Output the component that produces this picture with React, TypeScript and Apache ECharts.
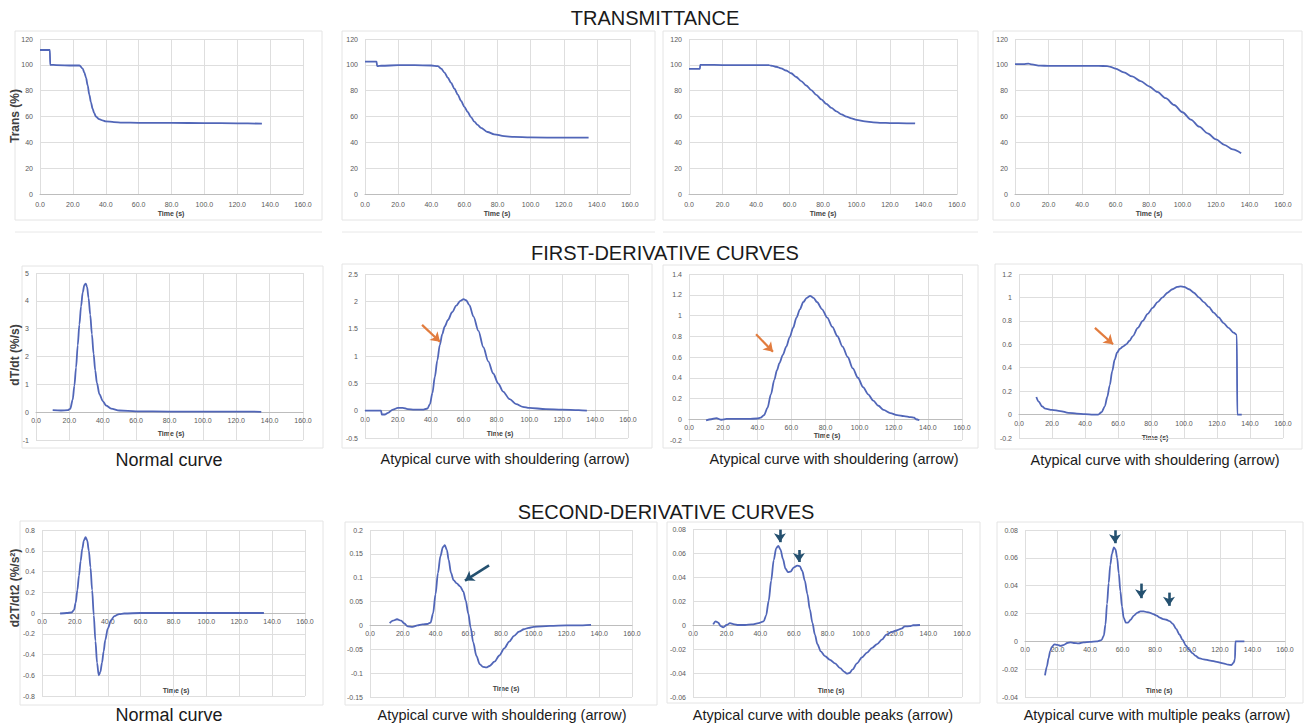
import React, { useEffect, useRef } from 'react';
import * as echarts from 'echarts';

type P = [number, number];

// ---- X axis (time) ----
const TIME_MIN = 0;
const TIME_MAX = 160;
const TIME_STEP = 20;

// ---- Transmittance (%) ----
const T1: P[] = [[0,111.5],[6,111.5],[6.2,100],[10,99.8],[20,99.5],[24,99.5],[26,97],[27,94],[28,90],[29,84],[30,77],[31,71],[32,66],[33,62.5],[34,60],[36,58],[38,57],[40,56.3],[45,55.6],[50,55.3],[60,55.1],[80,55],[100,54.9],[120,54.7],[135,54.5]];
const T2: P[] = [[0,102.5],[7,102.5],[7.3,99],[10,99.3],[20,99.7],[30,99.7],[40,99.5],[44,99],[46,97],[48,94],[50,90],[52,86],[54,81.5],[56,77],[58,72],[60,67.5],[62,63.5],[64,59.5],[66,56],[68,53.5],[70,51.2],[74,48],[78,46.2],[84,44.8],[90,44.2],[100,43.8],[120,43.6],[135,43.6]];
const T3: P[] = [[0,96.8],[6.5,96.8],[6.7,100],[10,100],[20,99.8],[30,99.8],[40,99.8],[48,99.7],[50,99.2],[52,98.5],[55,97.3],[58,95.6],[61,93.5],[64,90.6],[67,87.4],[70,84],[73,80.4],[76,76.8],[79,73.2],[82,69.8],[85,66.7],[88,64],[91,61.7],[94,59.9],[97,58.5],[100,57.4],[105,56.2],[110,55.5],[115,55.1],[120,54.9],[130,54.7],[135,54.6]];
const T4: P[] = [[0,100.5],[5,100.5],[8,101],[10,100.3],[15,99.4],[20,99.2],[30,99.2],[40,99.2],[50,99.2],[55,99],[57,98.4],[60,97],[65,94.2],[70,91],[75,87.4],[80,83.4],[85,79],[90,74.2],[95,68.9],[100,63.3],[105,57.6],[110,52.1],[115,47],[120,42.3],[125,38.1],[130,34.5],[135,31.5]];

// ---- First derivative dT/dt (%/s) ----
const D1: P[] = [[10,0.07],[15,0.06],[19,0.07],[20.5,0.12],[22,0.45],[23,0.95],[24,1.6],[25,2.4],[26,3.15],[27,3.8],[28,4.3],[29,4.57],[29.8,4.62],[30.6,4.5],[31.5,4.1],[32.5,3.5],[33.5,2.8],[34.5,2.1],[35.5,1.5],[36.5,1.05],[38,0.65],[40,0.4],[42,0.24],[45,0.13],[50,0.06],[60,0.03],[80,0.02],[100,0.02],[120,0.02],[130,0.02],[135,0.01]];
const D2: P[] = [[0,0],[5,0],[9.8,0],[10.2,-0.07],[12,-0.07],[14,-0.04],[17,0.02],[20,0.05],[23,0.05],[26,0.03],[30,0.02],[35,0.02],[38,0.04],[39.5,0.12],[41,0.32],[42.5,0.62],[44,0.92],[45.5,1.2],[47,1.4],[48.5,1.54],[50.5,1.66],[53,1.8],[55.5,1.92],[58,2.01],[60,2.04],[61.5,2.02],[63.5,1.93],[66,1.72],[69,1.46],[72,1.16],[75,0.9],[78,0.68],[81,0.5],[84,0.35],[88,0.21],[92,0.12],[96,0.07],[100,0.05],[110,0.03],[120,0.02],[130,0.01],[135,0]];
const D3: P[] = [[10,-0.01],[13,0],[16,0.01],[19,-0.005],[22,0.003],[28,0.003],[35,0.003],[40,0.007],[42,0.015],[44,0.04],[46,0.11],[48,0.24],[50,0.38],[51.5,0.47],[53,0.54],[55,0.62],[57,0.7],[59,0.79],[61,0.88],[63,0.98],[65,1.06],[67,1.13],[69,1.17],[71,1.19],[73,1.17],[75,1.13],[78,1.06],[81,0.98],[84,0.89],[87,0.8],[90,0.7],[93,0.6],[96,0.49],[99,0.4],[102,0.31],[105,0.24],[108,0.18],[111,0.13],[114,0.09],[118,0.06],[122,0.04],[126,0.03],[130,0.02],[132,0.015],[133,0],[135,-0.01]];
const D4: P[] = [[10.5,0.15],[12,0.11],[14,0.07],[16,0.05],[20,0.04],[25,0.03],[30,0.015],[35,0.008],[40,0.004],[45,0],[48,0],[50,0.02],[52,0.07],[53.5,0.15],[55,0.25],[56.5,0.37],[58,0.47],[59.5,0.53],[61,0.56],[63,0.58],[65,0.6],[67,0.63],[69,0.67],[72,0.74],[75,0.8],[78,0.86],[81,0.91],[84,0.96],[87,1.0],[90,1.04],[93,1.07],[96,1.09],[98,1.095],[100,1.09],[103,1.07],[106,1.04],[109,1.0],[112,0.96],[115,0.92],[118,0.87],[121,0.83],[124,0.78],[127,0.74],[130,0.7],[132,0.68],[132.3,0],[135,0]];

// ---- Second derivative d2T/dt2 (%/s²) ----
const S1: P[] = [[11,-0.005],[15,0],[18,0.005],[19.5,0.03],[20.5,0.1],[21.5,0.22],[22.5,0.36],[23.5,0.5],[24.5,0.62],[25.5,0.7],[26.5,0.73],[27.5,0.7],[28.5,0.6],[29.5,0.44],[30.5,0.22],[31.5,-0.02],[32.5,-0.27],[33.5,-0.48],[34.5,-0.6],[35.5,-0.57],[36.5,-0.48],[37.5,-0.37],[38.5,-0.26],[40,-0.15],[42,-0.07],[44,-0.03],[47,-0.01],[50,-0.005],[60,0],[80,0],[100,0],[120,0],[135,0]];
const S2: P[] = [[12,0.005],[14,0.01],[16.5,0.013],[19,0.01],[21,0.004],[23,-0.002],[26,-0.003],[29,0],[32,0.002],[35,0.003],[37,0.006],[38.5,0.025],[40,0.065],[41.5,0.11],[43,0.145],[44.5,0.164],[45.7,0.168],[47,0.158],[48,0.138],[49.5,0.11],[51,0.095],[53,0.088],[55,0.082],[57,0.071],[58.5,0.052],[60,0.025],[61.5,-0.005],[63,-0.035],[65,-0.064],[67,-0.081],[69,-0.087],[71,-0.088],[73,-0.085],[76,-0.076],[79,-0.063],[82,-0.048],[85,-0.034],[88,-0.022],[91,-0.013],[94,-0.008],[97,-0.005],[100,-0.003],[110,-0.001],[120,0],[130,0],[135,0.001]];
const S3: P[] = [[12,0.0005],[13.5,0.003],[15,0.002],[16.5,-0.001],[18,-0.002],[20,0],[22,0.0015],[24,0.0008],[27,0],[31,0],[35,0.0005],[39,0.0015],[42,0.003],[43.5,0.008],[45,0.02],[46.5,0.037],[48,0.054],[49.5,0.064],[50.7,0.066],[52,0.063],[53.5,0.055],[55,0.047],[56.5,0.044],[58,0.0445],[60,0.048],[62,0.0495],[63.5,0.049],[65,0.045],[66.5,0.037],[68,0.026],[69.5,0.013],[71,0.002],[72.5,-0.008],[74,-0.016],[76,-0.022],[78.5,-0.026],[81.5,-0.029],[84.5,-0.032],[87.5,-0.036],[90,-0.039],[91.5,-0.0405],[93,-0.04],[95,-0.037],[97.5,-0.032],[100.5,-0.027],[103.5,-0.023],[106.5,-0.019],[109.5,-0.016],[112.5,-0.012],[115,-0.008],[118,-0.006],[121,-0.0045],[124,-0.003],[126,-0.0012],[129,-0.001],[131,-0.0002],[135,0]];
const S4: P[] = [[12.3,-0.0245],[13.5,-0.018],[14.5,-0.012],[15.5,-0.007],[16.5,-0.004],[18,-0.0022],[20,-0.0025],[22,-0.0032],[24,-0.0025],[26,-0.0012],[28,-0.0008],[30,-0.0012],[33,-0.0015],[36,-0.0008],[40,-0.0004],[44,0],[47,0.0008],[48.5,0.004],[49.5,0.012],[50.5,0.027],[51.5,0.042],[52.5,0.055],[53.5,0.063],[54.7,0.0675],[55.7,0.066],[56.7,0.06],[57.7,0.049],[58.7,0.036],[59.7,0.025],[60.7,0.017],[62,0.0135],[63.5,0.0135],[65,0.0155],[67,0.0185],[69,0.0205],[71,0.0215],[73,0.0215],[75,0.021],[77,0.0205],[79,0.0195],[81,0.0185],[83,0.017],[85,0.016],[87,0.0155],[89,0.0145],[91,0.0125],[93,0.009],[95,0.005],[97,0.001],[99,-0.003],[101,-0.006],[103,-0.0085],[105,-0.0105],[107,-0.012],[110,-0.013],[114,-0.0138],[118,-0.0148],[122,-0.0158],[125,-0.0168],[127,-0.017],[128.3,-0.0155],[129.2,-0.013],[129.5,0],[135,0]];

const SERIES_DATA: P[][] = [T1, T2, T3, T4, D1, D2, D3, D4, S1, S2, S3, S4];

// y scales per panel: [min, max, interval]
const Y_SCALES: [number, number, number][] = [
  [0, 120, 20], [0, 120, 20], [0, 120, 20], [0, 120, 20],
  [-1, 5, 1], [-0.5, 2.5, 0.5], [-0.2, 1.4, 0.2], [-0.2, 1.2, 0.2],
  [-0.8, 0.8, 0.2], [-0.15, 0.2, 0.05], [-0.06, 0.08, 0.02], [-0.04, 0.08, 0.02],
];

// annotation arrows in data units: [panel, x1, y1, x2, y2]
const ORANGE_ARROWS: [number, number, number, number, number][] = [
  [5, 34.7, 1.57, 45.6, 1.26],
  [6, 39.3, 0.82, 49.2, 0.65],
  [7, 46, 0.74, 57, 0.6],
];
const BLUE_ARROWS: [number, number, number, number, number][] = [
  [9, 72.7, 0.126, 58, 0.094],
  [10, 51.7, 0.0795, 51.7, 0.069],
  [10, 63, 0.0625, 63, 0.0525],
  [11, 55.4, 0.0798, 55.4, 0.0705],
  [11, 71.4, 0.0415, 71.4, 0.031],
  [11, 88.6, 0.035, 88.6, 0.0255],
];

const SECTION_TITLES = ['TRANSMITTANCE', 'FIRST-DERIVATIVE CURVES', 'SECOND-DERIVATIVE CURVES'];
const Y_NAMES = ['Trans (%)', 'dT/dt (%/s)', 'd2T/dt2 (%/s²)'];
const X_NAME = 'Time (s)';
const ROW2_SUBTITLES = ['Normal curve', 'Atypical curve with shouldering (arrow)', 'Atypical curve with shouldering (arrow)', 'Atypical curve with shouldering (arrow)'];
const ROW3_SUBTITLES = ['Normal curve', 'Atypical curve with shouldering (arrow)', 'Atypical curve with double peaks (arrow)', 'Atypical curve with multiple peaks (arrow)'];

// ---- layout (pixels) ----
const GRIDS = [
  { left: 40, top: 39, width: 263, height: 155 },
  { left: 365, top: 39, width: 265, height: 155 },
  { left: 689, top: 39, width: 268, height: 155 },
  { left: 1015, top: 39, width: 268, height: 155 },
  { left: 36, top: 273, width: 267, height: 167 },
  { left: 365, top: 274, width: 263, height: 164 },
  { left: 689, top: 274, width: 273, height: 166 },
  { left: 1019, top: 274, width: 264, height: 164 },
  { left: 42, top: 530, width: 263, height: 166 },
  { left: 370, top: 530, width: 262, height: 167 },
  { left: 693, top: 529, width: 269, height: 168 },
  { left: 1025, top: 530, width: 260, height: 167 },
];
const BOXES = [
  [15, 31, 307, 189], [342, 31, 313, 189], [663, 31, 315, 189], [993, 31, 309, 189],
  [22, 266, 301, 182], [342, 264, 310, 184], [663, 265, 315, 183], [995, 264, 307, 185],
  [20, 521, 303, 184], [345, 522, 312, 183], [667, 522, 313, 181], [997, 522, 306, 181],
];
const TIME_POS = [
  [171, 213], [497, 213], [823, 213], [1149, 213],
  [171, 433], [500, 433], [827, 435], [1155, 437],
  [176, 690], [506, 688], [831, 690], [1159, 690],
];
const TITLE_POS = [[655, 18], [665, 253], [666, 512]];
const YNAME_POS = [[15, 116], [15, 355], [15, 588]];
const SUB2_POS = [[169, 460], [505, 459], [834, 459], [1155, 460]];
const SUB3_POS = [[169, 715], [502, 715], [823, 715], [1157, 715]];

const FONT = 'Liberation Sans, Arial, sans-serif';
const LINE_COLOR = '#5166b8';
const GRID_COLOR = '#dedede';
const LABEL_COLOR = '#595959';

const fmtY = (v: number) => String(parseFloat(v.toFixed(4)));

export default function App() {
  const ref = useRef<HTMLDivElement>(null);
  useEffect(() => {
    if (!ref.current) return;
    const chart = echarts.init(ref.current, undefined, { renderer: 'svg' });

    const grid = GRIDS.map((g) => ({ ...g, containLabel: false }));
    const xAxis = GRIDS.map((g, i) => {
      const [mn, mx] = Y_SCALES[i];
      // place the time axis (line + labels) at y = 0, like the spreadsheet charts
      const zeroOffset = mn < 0 ? -(g.height * (0 - mn)) / (mx - mn) : 0;
      return {
        type: 'value',
        gridIndex: i,
        position: 'bottom',
        offset: zeroOffset,
        min: TIME_MIN,
        max: TIME_MAX,
        interval: TIME_STEP,
        axisLine: { show: true, onZero: false, lineStyle: { color: '#bdbdbd', width: 1 } },
        axisTick: { show: false },
        axisLabel: { fontSize: 7, color: LABEL_COLOR, margin: i < 4 ? 7 : 5, fontFamily: FONT, formatter: (v: number) => v.toFixed(1) },
        splitLine: { show: true, lineStyle: { color: GRID_COLOR, width: 1 } },
      };
    });
    const yAxis = Y_SCALES.map(([mn, mx, iv], i) => ({
      type: 'value',
      gridIndex: i,
      min: mn,
      max: mx,
      interval: iv,
      axisLine: { show: false },
      axisTick: { show: false },
      axisLabel: { fontSize: 7, color: LABEL_COLOR, margin: 7, fontFamily: FONT, formatter: fmtY },
      splitLine: { show: true, lineStyle: { color: GRID_COLOR, width: 1 } },
    }));

    const arrowsFor = (i: number) => {
      const o = ORANGE_ARROWS.filter((a) => a[0] === i).map((a) => [
        { coord: [a[1], a[2]], lineStyle: { color: '#e27c3e', width: 2.2 }, itemStyle: { color: '#e27c3e' } },
        { coord: [a[3], a[4]] },
      ]);
      const b = BLUE_ARROWS.filter((a) => a[0] === i).map((a) => [
        { coord: [a[1], a[2]], lineStyle: { color: '#24506f', width: 2.6 }, itemStyle: { color: '#24506f' } },
        { coord: [a[3], a[4]] },
      ]);
      return [...o, ...b];
    };

    const series = SERIES_DATA.map((data, i) => {
      const arrows = arrowsFor(i);
      return {
        type: 'line',
        xAxisIndex: i,
        yAxisIndex: i,
        data,
        showSymbol: false,
        symbol: 'none',
        smooth: 0.3,
        smoothMonotone: 'x',
        lineStyle: { color: LINE_COLOR, width: 1.8 },
        z: 3,
        markLine: arrows.length
          ? {
              silent: true,
              animation: false,
              symbol: ['none', 'arrow'],
              symbolSize: 9,
              label: { show: false },
              lineStyle: { type: 'solid' },
              emphasis: { disabled: true },
              data: arrows,
            }
          : undefined,
      };
    });

    const graphic: any[] = [];
    BOXES.forEach(([x, y, w, h]) => {
      graphic.push({ type: 'rect', shape: { x, y, width: w, height: h }, style: { fill: 'none', stroke: '#e4e4e4', lineWidth: 1 }, z: -1, silent: true });
    });
    [[15, 322], [342, 655], [663, 978], [993, 1302]].forEach(([a, b]) => {
      graphic.push({ type: 'line', shape: { x1: a, y1: 232, x2: b, y2: 232 }, style: { stroke: '#e8e8e8', lineWidth: 1 }, silent: true });
    });
    SECTION_TITLES.forEach((t, i) => {
      graphic.push({ type: 'text', x: TITLE_POS[i][0], y: TITLE_POS[i][1], style: { text: t, fontSize: 20, fontFamily: FONT, fill: '#1a1a1a', align: 'center', verticalAlign: 'middle' } });
    });
    Y_NAMES.forEach((t, i) => {
      graphic.push({ type: 'text', x: YNAME_POS[i][0], y: YNAME_POS[i][1], rotation: Math.PI / 2, style: { text: t, fontSize: 12, fontWeight: 'bold', fontFamily: FONT, fill: '#404040', align: 'center', verticalAlign: 'middle' } });
    });
    TIME_POS.forEach(([x, y]) => {
      graphic.push({ type: 'text', x, y, style: { text: X_NAME, fontSize: 7, fontWeight: 'bold', fontFamily: FONT, fill: '#404040', align: 'center', verticalAlign: 'middle' } });
    });
    ROW2_SUBTITLES.forEach((t, i) => {
      graphic.push({ type: 'text', x: SUB2_POS[i][0], y: SUB2_POS[i][1], style: { text: t, fontSize: i === 0 ? 18 : 14.5, fontFamily: FONT, fill: '#1a1a1a', align: 'center', verticalAlign: 'middle' } });
    });
    ROW3_SUBTITLES.forEach((t, i) => {
      graphic.push({ type: 'text', x: SUB3_POS[i][0], y: SUB3_POS[i][1], style: { text: t, fontSize: i === 0 ? 18 : 14.5, fontFamily: FONT, fill: '#1a1a1a', align: 'center', verticalAlign: 'middle' } });
    });

    chart.setOption({
      animation: false,
      backgroundColor: '#ffffff',
      grid,
      xAxis,
      yAxis,
      series,
      graphic,
    });
    return () => chart.dispose();
  }, []);

  return (
    <div
      ref={ref}
      style={{ position: 'fixed', left: 0, top: 0, width: 1311, height: 728, background: '#fff' }}
    />
  );
}
